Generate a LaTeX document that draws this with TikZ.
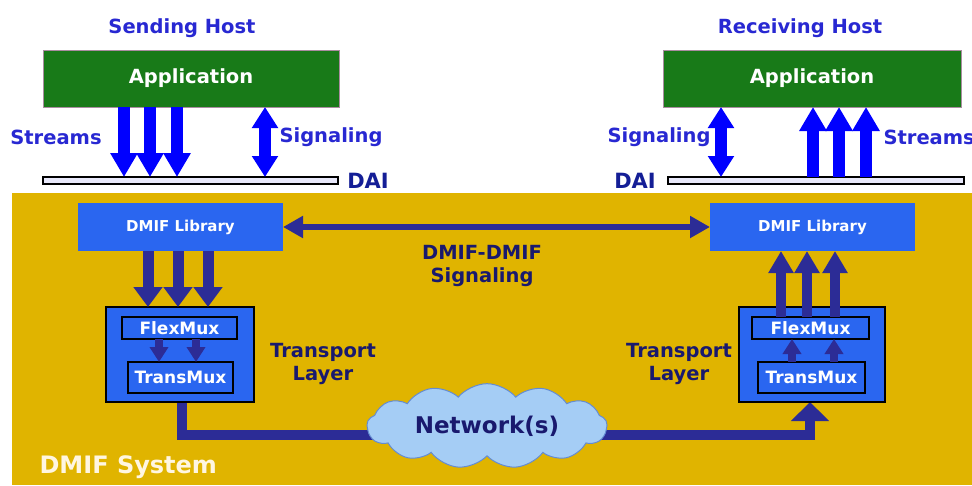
\documentclass[tikz,border=0pt]{standalone}
\usepackage{fontspec}
\setmainfont{DejaVu Sans}
\usetikzlibrary{arrows.meta,shapes.symbols}
\pgfdeclarelayer{bg}
\pgfdeclarelayer{mid}
\pgfsetlayers{bg,mid,main}

\definecolor{gold}{RGB}{224,180,0}
\definecolor{appgreen}{RGB}{24,122,24}
\definecolor{appedge}{RGB}{170,140,160}
\definecolor{hostblue}{RGB}{40,40,210}
\definecolor{flowblue}{RGB}{0,0,255}
\definecolor{daitext}{RGB}{20,30,150}
\definecolor{boxblue}{RGB}{42,102,240}
\definecolor{navy}{RGB}{44,44,150}
\definecolor{darktext}{RGB}{25,25,110}
\definecolor{systext}{RGB}{255,246,225}
\definecolor{cloudfill}{RGB}{165,205,245}
\definecolor{cloudedge}{RGB}{100,140,210}
\definecolor{daifill}{RGB}{232,232,250}

\newcommand\txt[1]{\fontsize{#1}{#1}\selectfont\bfseries}

\begin{document}
\begin{tikzpicture}[x=1pt,y=-1pt,
  box/.style={anchor=north west,inner sep=0pt,outer sep=0pt},
  appbox/.style={box,fill=appgreen,draw=appedge,line width=0.8pt,text=white,font=\txt{19.5}},
  daibar/.style={box,fill=daifill,draw=black,line width=1.2pt},
  libbox/.style={box,fill=boxblue,text=white,font=\txt{15}},
  transbox/.style={box,fill=boxblue,draw=black,line width=2pt},
  muxbox/.style={box,fill=boxblue,draw=black,line width=1.8pt,text=white,font=\txt{17}},
  hosttitle/.style={text=hostblue,font=\txt{19.5}},
  flowlabel/.style={text=hostblue,font=\txt{19.5}},
  dailabel/.style={text=daitext,font=\txt{21}},
  layerlabel/.style={text=darktext,font=\txt{19.5},align=center,inner sep=0pt},
  stream/.style={flowblue,line width=12pt,-{Triangle[length=24pt,width=26pt]}},
  signal/.style={flowblue,line width=12pt,{Triangle[length=21pt,width=25pt]}-{Triangle[length=21pt,width=25pt]}},
  libflow/.style={navy,line width=11pt,-{Triangle[length=20pt,width=28pt]}},
  rlibflow/.style={navy,line width=10pt,-{Triangle[length=22pt,width=24pt]}},
  muxflow/.style={navy,line width=8pt,-{Triangle[length=15pt,width=18pt]}},
  peer/.style={navy,line width=6pt,{Triangle[length=20pt,width=21pt]}-{Triangle[length=20pt,width=21pt]}},
  netline/.style={navy,line width=10pt},
]
\clip (0,0) rectangle (972,485);

% page and DMIF system area
\begin{pgfonlayer}{bg}
  \fill[white] (0,0) rectangle (972,485);
  \fill[gold] (12,193) rectangle (972,485);
\end{pgfonlayer}

% ---- Sending host ----
\node[hosttitle] (sendT) at (182,28) {Sending Host};
\node[appbox,minimum width=296pt,minimum height=57pt] (appL) at (43,50) {Application};
\node[daibar,minimum width=295pt,minimum height=7pt] (daiL) at (43,177) {};
\node[dailabel] (daiLT) at (368,181) {DAI};
\node[flowlabel] (strL) at (56,137) {Streams};
\node[flowlabel] (sigL) at (331,137) {Signaling};

\coordinate (a1) at (124,0);
\coordinate (a2) at (150,0);
\coordinate (a3) at (177,0);
\coordinate (a4) at (265,0);
\draw[stream] (appL.south -| a1) -- (daiL.north -| a1);
\draw[stream] (appL.south -| a2) -- (daiL.north -| a2);
\draw[stream] (appL.south -| a3) -- (daiL.north -| a3);
\draw[signal] (appL.south -| a4) -- (daiL.north -| a4);

% ---- Receiving host ----
\node[hosttitle] (recvT) at (800,28) {Receiving Host};
\node[appbox,minimum width=298pt,minimum height=57pt] (appR) at (663,50) {Application};
\node[daibar,minimum width=296pt,minimum height=7pt] (daiR) at (668,177) {};
\node[dailabel] (daiRT) at (635,181) {DAI};
\node[flowlabel] (sigR) at (659,137) {Signaling};
\node[flowlabel,anchor=west] (strR) at (880,137) {Streams};

\coordinate (b1) at (721,0);
\coordinate (b2) at (813,0);
\coordinate (b3) at (839,0);
\coordinate (b4) at (866,0);
\draw[signal] (appR.south -| b1) -- (daiR.north -| b1);
\draw[stream] (daiR.north -| b2) -- (appR.south -| b2);
\draw[stream] (daiR.north -| b3) -- (appR.south -| b3);
\draw[stream] (daiR.north -| b4) -- (appR.south -| b4);

% ---- DMIF libraries and peer signaling ----
\node[libbox,minimum width=205pt,minimum height=48pt] (libL) at (78,203) {DMIF Library};
\node[libbox,minimum width=205pt,minimum height=48pt] (libR) at (710,203) {DMIF Library};
\coordinate (py) at (0,227);
\draw[peer] (libL.east |- py) -- (libR.west |- py);
\node[layerlabel] (peerT) at (482,266) {DMIF-DMIF\\[4pt]Signaling};

% ---- Sender transport layer ----
\node[transbox,minimum width=148pt,minimum height=95pt] (trL) at (106,307) {};
\node[muxbox,minimum width=115pt,minimum height=22pt] (fmL) at (122,317) {FlexMux};
\node[muxbox,minimum width=105pt,minimum height=31pt] (tmL) at (128,362) {TransMux};
\node[layerlabel] (tlL) at (323,364) {Transport\\[4pt]Layer};

\coordinate (c1) at (148,0);
\coordinate (c2) at (178,0);
\coordinate (c3) at (208,0);
\draw[libflow] (libL.south -| c1) -- (trL.north -| c1);
\draw[libflow] (libL.south -| c2) -- (trL.north -| c2);
\draw[libflow] (libL.south -| c3) -- (trL.north -| c3);
\coordinate (m1) at (159,0);
\coordinate (m2) at (196,0);
\draw[muxflow] (fmL.south -| m1) -- (tmL.north -| m1);
\draw[muxflow] (fmL.south -| m2) -- (tmL.north -| m2);

% ---- Receiver transport layer ----
\node[transbox,minimum width=146pt,minimum height=95pt] (trR) at (739,307) {};
\node[muxbox,minimum width=117pt,minimum height=22pt] (fmR) at (752,317) {FlexMux};
\node[muxbox,minimum width=107pt,minimum height=31pt] (tmR) at (758,362) {TransMux};
\node[layerlabel] (tlR) at (679,364) {Transport\\[4pt]Layer};

\coordinate (d1) at (781,0);
\coordinate (d2) at (807,0);
\coordinate (d3) at (835,0);
\draw[rlibflow] (fmR.north -| d1) -- (libR.south -| d1);
\draw[rlibflow] (fmR.north -| d2) -- (libR.south -| d2);
\draw[rlibflow] (fmR.north -| d3) -- (libR.south -| d3);
\coordinate (n1) at (792,0);
\coordinate (n2) at (834,0);
\draw[muxflow] (tmR.north -| n1) -- (fmR.south -| n1);
\draw[muxflow] (tmR.north -| n2) -- (fmR.south -| n2);

% ---- Network ----
\node[cloud,cloud puffs=13,cloud puff arc=100,aspect=3.2,
      minimum width=240pt,minimum height=80pt,inner sep=0pt,
      fill=cloudfill,draw=cloudedge,line width=1pt,
      text=darktext,font=\txt{23}] (net) at (487,426) {Network(s)};
\coordinate (ny) at (0,435);
\coordinate (x1) at (182,0);
\coordinate (x2) at (810,0);
\begin{pgfonlayer}{mid}
  \draw[netline] (trL.south -| x1) |- (net.center |- ny);
  \draw[netline,-{Triangle[length=19pt,width=37pt]}] (net.center |- ny) -| (trR.south -| x2);
\end{pgfonlayer}

\node[text=systext,font=\txt{24},anchor=west] (sys) at (36,467) {DMIF System};
\end{tikzpicture}
\end{document}
